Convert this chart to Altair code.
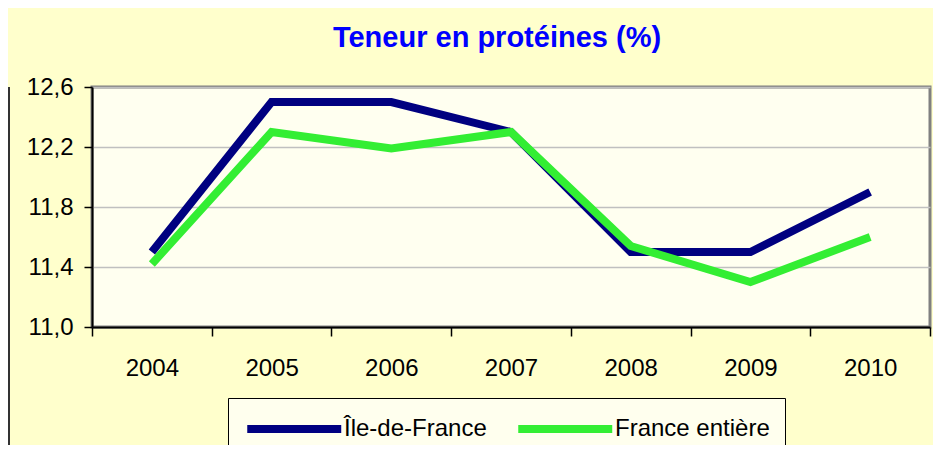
import altair as alt
import pandas as pd

years = ["2004", "2005", "2006", "2007", "2008", "2009", "2010"]
idf = [11.5, 12.5, 12.5, 12.3, 11.5, 11.5, 11.9]
france = [11.42, 12.3, 12.19, 12.3, 11.54, 11.3, 11.6]
series_names = ["Île-de-France", "France entière"]
series_colors = ["#000080", "#33ee33"]
y_ticks = [11.0, 11.4, 11.8, 12.2, 12.6]

rows = []
for i, yr in enumerate(years):
    rows.append({"year": yr, "value": idf[i], "series": series_names[0]})
    rows.append({"year": yr, "value": france[i], "series": series_names[1]})
df = pd.DataFrame(rows)

W, H = 838, 240
PL, PT, PR, PB = 84, 79, 3, 118
FONT = "Liberation Sans, Arial, sans-serif"

x_enc = alt.X("year:N", sort=years, title=None,
              scale=alt.Scale(paddingInner=0, paddingOuter=0),
              axis=alt.Axis(labelAngle=0, tickBand="extent", tickSize=9,
                            tickColor="#000000", tickWidth=1.5,
                            domainColor="#000000", domainWidth=2,
                            labelFont=FONT, labelFontSize=24, labelColor="#000000",
                            labelPadding=20, grid=False))
y_enc = alt.Y("value:Q", title=None,
              scale=alt.Scale(domain=[11.0, 12.6], nice=False, zero=False),
              axis=alt.Axis(values=y_ticks, tickSize=8, tickColor="#000000", tickWidth=1.5,
                            domainColor="#000000", domainWidth=2,
                            labelFont=FONT, labelFontSize=24, labelColor="#000000",
                            labelPadding=11,
                            labelExpr="replace(format(datum.value, '.1f'), '.', ',')",
                            grid=True, gridColor="#c0c0c0", gridWidth=1.5))
color_enc = alt.Color("series:N", title=None,
                      scale=alt.Scale(domain=series_names, range=series_colors),
                      legend=alt.Legend(orient="none", legendX=136, legendY=311,
                                        direction="horizontal", symbolType="M-1,0H7",
                                        symbolSize=552, symbolStrokeWidth=8,
                                        labelFont=FONT, labelFontSize=24, labelColor="#000000",
                                        labelOffset=69, columnPadding=15, padding=15,
                                        strokeColor="#000000", fillColor="#ffffee"))

base = alt.Chart(df)
navy = base.transform_filter(alt.datum.series == series_names[0]).mark_line(
    strokeWidth=8, strokeJoin="miter").encode(x=x_enc, y=y_enc, color=color_enc)
green = base.transform_filter(alt.datum.series == series_names[1]).mark_line(
    strokeWidth=8, strokeJoin="miter").encode(x=x_enc, y=y_enc, color=color_enc)

left_border = alt.Chart(df).mark_rule(color="#333333", strokeWidth=2).encode(
    x=alt.value(-PL + 1), y=alt.value(0), y2=alt.value(H + PB))

chart = alt.layer(navy, green, left_border).properties(
    width=W, height=H,
    autosize=alt.AutoSizeParams(type="none"),
    padding={"left": PL, "top": PT, "right": PR, "bottom": PB},
    background="#ffffcc",
    title=alt.TitleParams("Teneur en protéines (%)", font=FONT, fontSize=29,
                          fontWeight="bold", color="#0000ff", anchor="middle",
                          frame="group", dx=-14, offset=-1, baseline="alphabetic"),
).configure_view(fill="#fffff0", stroke="#808080", strokeWidth=3)

chart.save("out.html", embed_options={"renderer": "svg", "actions": False})
